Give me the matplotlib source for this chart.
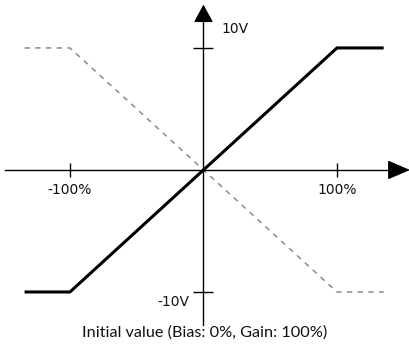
import matplotlib
matplotlib.use("Agg")
import matplotlib.pyplot as plt

# Data
x_pct = [-134, -100, 100, 135]
y_initial = [-10, -10, 10, 10]
y_reverse = [10, 10, -10, -10]
xtick_vals = [-100, 100]
xtick_labels = ["-100%", "100%"]
ytick_vals = [-10, 10]
ytick_labels = ["-10V", "10V"]
caption = "Initial value (Bias: 0%, Gain: 100%)"

W, H = 410, 347
fig = plt.figure(figsize=(W / 100, H / 100), dpi=100)
ax = fig.add_axes([0, 0, 1, 1])
ax.set_xlim(-152.4, 154.7)
ax.set_ylim(-14.51, 13.93)
ax.patch.set_alpha(0)

tick_font = dict(family=["DejaVu Sans"], size=10, color="#111111")

# lines
ax.plot(x_pct, y_reverse, color="#8a8a8a", lw=1.1, linestyle=(0, (3.5, 3.5)), zorder=2)
ax.plot(x_pct, y_initial, color="black", lw=2.2, solid_capstyle="butt",
        solid_joinstyle="miter", zorder=3)

# spines as axes through origin
for s in ["top", "right"]:
    ax.spines[s].set_visible(False)
ax.spines["left"].set_position(("data", 0))
ax.spines["bottom"].set_position(("data", 0))
ax.spines["left"].set_bounds(-12.7, 12.5)
ax.spines["bottom"].set_bounds(-148.7, 141)
for s in ["left", "bottom"]:
    ax.spines[s].set_linewidth(1.0)
    ax.spines[s].set_zorder(4)

ax.set_xticks(xtick_vals)
ax.set_xticklabels(xtick_labels, **tick_font)
ax.tick_params(axis="x", direction="inout", length=9.5, width=1.0, pad=4.5)
ax.set_yticks(ytick_vals)
ax.set_yticklabels([])
ax.tick_params(axis="y", direction="inout", length=15, width=1.0)

# y labels: 10V right of axis, -10V left of axis
ax.annotate(ytick_labels[1], xy=(0, ytick_vals[1]), xytext=(13, 13.5),
            textcoords="offset points", ha="left", va="center", **tick_font)
ax.annotate(ytick_labels[0], xy=(0, ytick_vals[0]), xytext=(-10, -7.5),
            textcoords="offset points", ha="right", va="center", **tick_font)

# arrowheads
ax.annotate("", xy=(154.7, 0), xytext=(139, 0),
            arrowprops=dict(arrowstyle="-|>,head_length=0.7,head_width=0.3",
                            mutation_scale=20, color="black", lw=1.0,
                            shrinkA=0, shrinkB=0))
ax.annotate("", xy=(0, 13.55), xytext=(0, 12.3),
            arrowprops=dict(arrowstyle="-|>,head_length=0.55,head_width=0.3",
                            mutation_scale=20, color="black", lw=1.0,
                            shrinkA=0, shrinkB=0))

fig.text(0.5, (H - 333) / H, caption, ha="center", va="center",
         family=["Lato", "DejaVu Sans"], size=11.7, color="#111111")

fig.savefig("out.png", dpi=100)
